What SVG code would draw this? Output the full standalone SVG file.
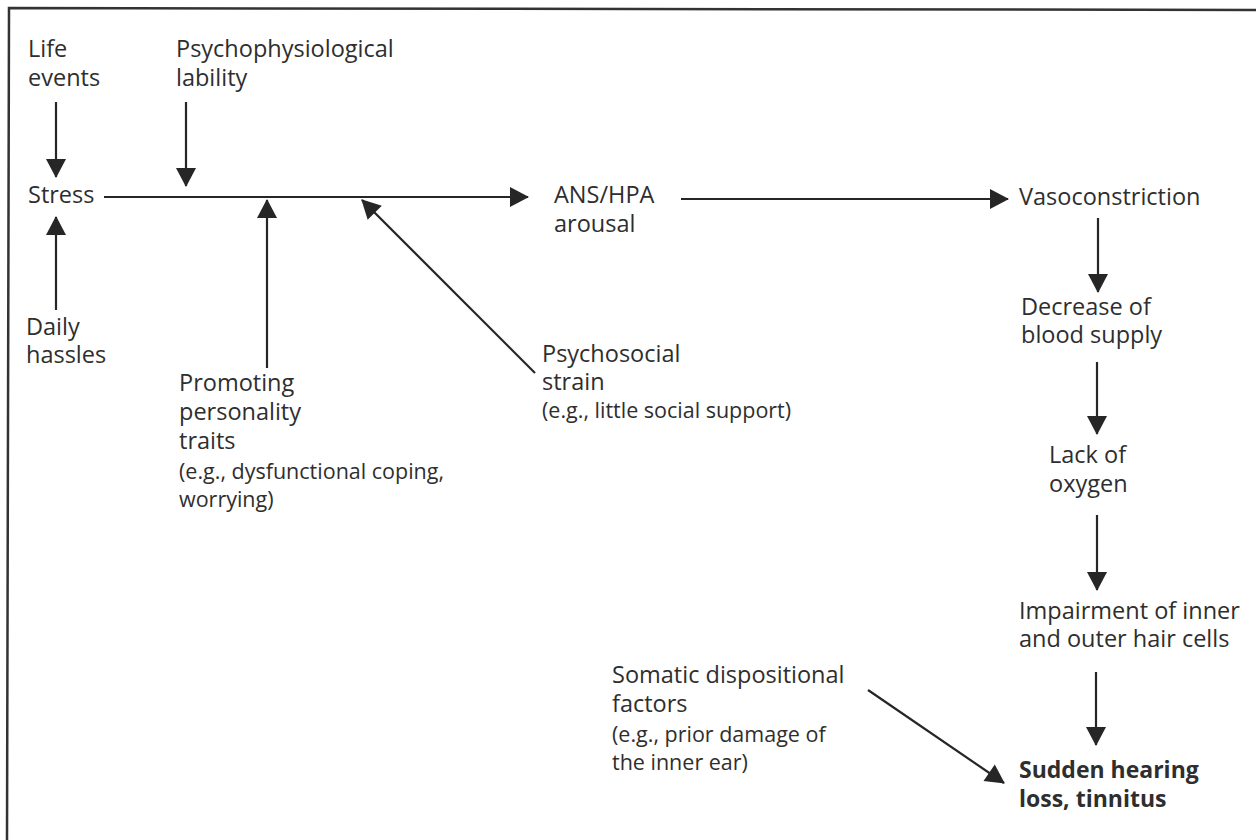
<svg xmlns="http://www.w3.org/2000/svg" width="1256" height="840" viewBox="0 0 1256 840">
<style>
text{font-family:"Open Sans","Noto Sans","Liberation Sans",sans-serif;font-size:23.5px;fill:#2e2e2e}
.eg{font-size:21.5px}
.b{font-weight:700;font-size:23px}
.c{stroke:#262626;stroke-width:2.2;fill:none}
</style>
<defs>
<marker id="ah" markerUnits="userSpaceOnUse" markerWidth="20" markerHeight="22" viewBox="0 -11 19 22" refX="18" refY="0" orient="auto">
<path d="M0,-10 L19,0 L0,10 Z" fill="#262626"/>
</marker>
</defs>
<rect width="1256" height="840" fill="#fff"/>
<path d="M7,840 L9,8 L1256,10" stroke="#333" stroke-width="2.5" fill="none"/>
<g id="connectors">
<line class="c" x1="56" y1="102" x2="56" y2="177" marker-end="url(#ah)"/>
<line class="c" x1="186" y1="102" x2="186" y2="186" marker-end="url(#ah)"/>
<line class="c" x1="104" y1="197" x2="528" y2="197" marker-end="url(#ah)"/>
<line class="c" x1="681" y1="199" x2="1008" y2="199" marker-end="url(#ah)"/>
<line class="c" x1="56" y1="310" x2="56" y2="217" marker-end="url(#ah)"/>
<line class="c" x1="267" y1="368" x2="267" y2="200" marker-end="url(#ah)"/>
<line class="c" x1="535" y1="373" x2="362" y2="200" marker-end="url(#ah)"/>
<line class="c" x1="1098" y1="218" x2="1098" y2="292" marker-end="url(#ah)"/>
<line class="c" x1="1097" y1="362" x2="1097" y2="434" marker-end="url(#ah)"/>
<line class="c" x1="1097" y1="515" x2="1097" y2="590" marker-end="url(#ah)"/>
<line class="c" x1="1096" y1="672" x2="1096" y2="745" marker-end="url(#ah)"/>
<line class="c" x1="868" y1="690" x2="1004" y2="783" marker-end="url(#ah)"/>
</g>
<g id="life-events"><text x="28" y="57">Life</text><text x="28" y="86">events</text></g>
<g id="psychophysiological"><text x="176" y="57">Psychophysiological</text><text x="176" y="86">lability</text></g>
<g id="stress"><text x="28" y="203">Stress</text></g>
<g id="daily-hassles"><text x="26" y="335">Daily</text><text x="26" y="363">hassles</text></g>
<g id="ans-hpa"><text x="554" y="203">ANS/HPA</text><text x="554" y="232">arousal</text></g>
<g id="vasoconstriction"><text x="1019" y="205">Vasoconstriction</text></g>
<g id="decrease"><text x="1021" y="315">Decrease of</text><text x="1021" y="343">blood supply</text></g>
<g id="lack"><text x="1049" y="463">Lack of</text><text x="1049" y="492">oxygen</text></g>
<g id="impairment"><text x="1019" y="619">Impairment of inner</text><text x="1019" y="647">and outer hair cells</text></g>
<g id="sudden"><text class="b" x="1019" y="778">Sudden hearing</text><text class="b" x="1019" y="807">loss, tinnitus</text></g>
<g id="promoting"><text x="179" y="391">Promoting</text><text x="179" y="420">personality</text><text x="179" y="449">traits</text><text class="eg" x="179" y="479">(e.g., dysfunctional coping,</text><text class="eg" x="179" y="507">worrying)</text></g>
<g id="psychosocial"><text x="542" y="362">Psychosocial</text><text x="542" y="390">strain</text><text class="eg" x="542" y="418">(e.g., little social support)</text></g>
<g id="somatic"><text x="612" y="683">Somatic dispositional</text><text x="612" y="712">factors</text><text class="eg" x="612" y="742">(e.g., prior damage of</text><text class="eg" x="612" y="770">the inner ear)</text></g>
</svg>
